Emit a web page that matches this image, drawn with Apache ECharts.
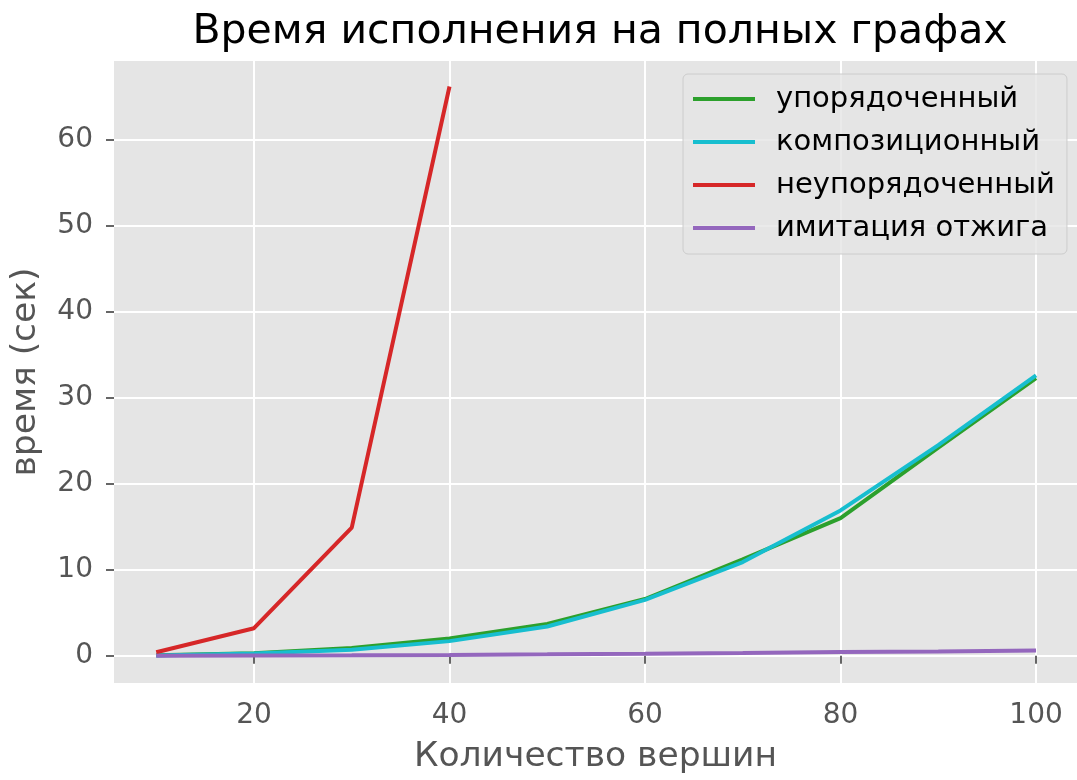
<!DOCTYPE html>
<html>
<head>
<meta charset="utf-8">
<script src="https://cdn.jsdelivr.net/npm/echarts@6/dist/echarts.min.js"></script>
<style>html,body{margin:0;padding:0;background:#fff}#c{width:1077px;height:780px}</style>
</head>
<body>
<div id="c"></div>
<script>
const vertices = [10, 20, 30, 40, 50, 60, 70, 80, 90, 100];
const ordered = [0.05, 0.3, 0.9, 2.0, 3.7, 6.6, 11.2, 16.0, 24.2, 32.3];
const compositional = [0.03, 0.25, 0.7, 1.7, 3.4, 6.5, 10.9, 16.9, 24.5, 32.6];
const unordered = [0.4, 3.2, 14.9, 66.2];
const annealing = [0.01, 0.03, 0.06, 0.1, 0.16, 0.23, 0.32, 0.43, 0.5, 0.6];
const xTicks = [20, 40, 60, 80, 100];
const yTicks = [0, 10, 20, 30, 40, 50, 60];
const seriesNames = ['упорядоченный', 'композиционный', 'неупорядоченный', 'имитация отжига'];
const colors = ['#2ca02c', '#17becf', '#d62728', '#9467bd'];

const pairs = (xs, ys) => ys.map((y, i) => [xs[i], y]);
const font = 'DejaVu Sans';
const chart = echarts.init(document.getElementById('c'), null, {renderer: 'canvas'});
const allSeries = [ordered, compositional, unordered, annealing];
chart.setOption({
  backgroundColor: '#ffffff',
  animation: false,
  color: colors,
  title: {
    text: 'Время исполнения на полных графах',
    left: 595, top: 7, textAlign: 'center',
    textStyle: {fontFamily: font, fontSize: 41, fontWeight: 'normal', color: '#000'}
  },
  grid: {left: 114, right: 0, top: 61, bottom: 92, show: true, backgroundColor: '#E5E5E5', borderWidth: 0},
  legend: {
    orient: 'vertical', left: 683, top: 74,
    padding: [10, 12, 11, 10],
    itemWidth: 62, itemHeight: 4, itemGap: 13,
    icon: 'rect',
    backgroundColor: 'rgba(229,229,229,0.8)', borderColor: '#cccccc', borderWidth: 1, borderRadius: 5,
    textStyle: {fontFamily: font, fontSize: 29, lineHeight: 30, color: '#000', padding: [0, 0, 0, 16]},
    data: seriesNames
  },
  xAxis: {
    type: 'value', min: 5.68, max: 104.19,
    name: 'Количество вершин', nameLocation: 'middle', nameGap: 57,
    nameTextStyle: {fontFamily: font, fontSize: 34.5, color: '#555'},
    axisLine: {show: false},
    axisTick: {show: true, length: 8, lineStyle: {color: '#555', width: 1.8}, customValues: xTicks},
    axisLabel: {fontFamily: font, fontSize: 28, color: '#555', margin: 19, customValues: xTicks},
    splitLine: {show: true, lineStyle: {color: '#ffffff', width: 2}}
  },
  yAxis: {
    type: 'value', min: -3.17, max: 69.17,
    name: 'время (сек)', nameLocation: 'middle', nameGap: 70,
    nameTextStyle: {fontFamily: font, fontSize: 34.5, color: '#555'},
    axisLine: {show: false},
    axisTick: {show: true, length: 8, lineStyle: {color: '#555', width: 1.8}, customValues: yTicks},
    axisLabel: {fontFamily: font, fontSize: 28, color: '#555', margin: 21, customValues: yTicks},
    splitLine: {show: true, lineStyle: {color: '#ffffff', width: 2}}
  },
  series: allSeries.map((arr, i) => ({
    name: seriesNames[i], type: 'line', showSymbol: false, symbol: 'none',
    data: pairs(vertices, arr),
    lineStyle: {width: 4, color: colors[i]},
    itemStyle: {color: colors[i]}
  }))
});
</script>
</body>
</html>
